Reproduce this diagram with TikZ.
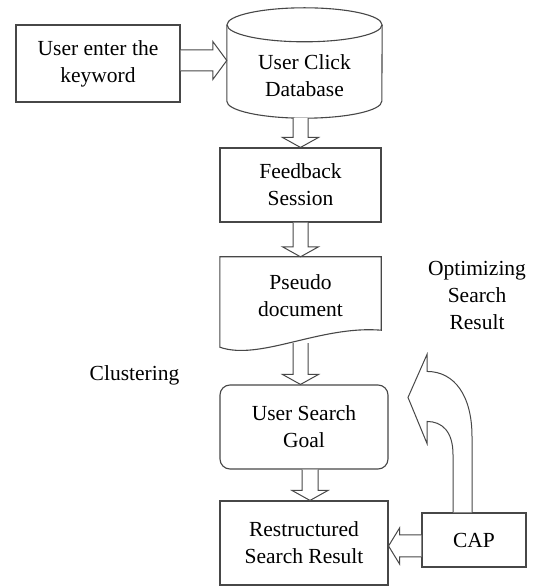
\documentclass[tikz,border=0pt]{standalone}
\usepackage{fontspec}
\setmainfont{LiberationSerif}[Extension=.ttf, UprightFont=*-Regular, BoldFont=*-Bold]
\usetikzlibrary{calc}
\newcommand\hollowdown[3]{%
  \draw[harrow] let \p1=#1, \p2=#2 in
    (\x2-#3,\y1) -- (\x2-#3,\y2+10pt) -- (\x2-18pt,\y2+10pt) -- (\x2,\y2)
    -- (\x2+18pt,\y2+10pt) -- (\x2+#3,\y2+10pt) -- (\x2+#3,\y1);}
\begin{document}
\begin{tikzpicture}[x=1pt,y=1pt,
  outline/.style={draw=black!72, line width=1.1pt},
  box/.style={outline, align=center, inner sep=0pt,
    font=\fontsize{21.5}{27}\selectfont, text=black},
  plain/.style={align=center, inner sep=0pt,
    font=\fontsize{21.5}{27}\selectfont, text=black},
  harrow/.style={draw=black!72, line width=1pt, fill=white, line join=miter}]
\fill[white] (0,0) rectangle (534,587);
\useasboundingbox (0,0) rectangle (534,587);

% nodes
\node[box, minimum width=164pt, minimum height=77pt] (user) at (98,523.5) {User enter the\\keyword};
\node[inner sep=0pt, minimum width=155pt, minimum height=110pt] (cyl) at (304.5,524) {};
\draw[outline] ($(cyl.north)+(0,-17)$) ellipse [x radius=77.5, y radius=17];
\draw[outline] ($(cyl.north west)+(0,-17)$) -- ($(cyl.south west)+(0,17)$)
  arc[start angle=180, end angle=360, x radius=77.5, y radius=17]
  -- ($(cyl.north east)+(0,-17)$);
\node[plain] (cyltext) at (304.5,511.5) {User Click\\Database};

\node[box, minimum width=161pt, minimum height=74pt] (fb) at (300.5,402) {Feedback\\Session};

\node[plain, minimum width=161pt, minimum height=78pt] (pd) at (300.5,291) {Pseudo\\document};
\draw[outline] ($(pd.south west)+(0,-12)$) -- (pd.north west) -- (pd.north east)
  -- ($(pd.south east)+(0,5)$)
  .. controls ($(pd.south east)+(-61,10)$) and ($(pd.south west)+(40,-26)$) ..
  ($(pd.south west)+(0,-12)$) -- cycle;

\node[box, rounded corners=10pt, minimum width=168pt, minimum height=84pt] (goal) at (304,160) {User Search\\Goal};
\node[box, minimum width=168pt, minimum height=84pt] (rest) at (304,44) {Restructured\\Search Result};
\node[box, minimum width=104pt, minimum height=54pt] (cap) at (474,47) {CAP};

\node[plain] (clus) at (134.5,212) {Clustering};
\node[plain] (opt) at (477,292) {Optimizing\\Search\\Result};

% connectors
\draw[harrow] let \p1=($(user.east)+(0,3)$), \p2=(cyl.west) in
  (\x1,\y1+10.5pt) -- (\x2-14pt,\y1+10.5pt) -- (\x2-14pt,\y1+19pt) -- (\x2,\y1)
  -- (\x2-14pt,\y1-19pt) -- (\x2-14pt,\y1-10.5pt) -- (\x1,\y1-10.5pt);

\hollowdown{(cyl.south)}{(fb.north)}{7.5pt}
\hollowdown{(fb.south)}{(pd.north)}{7.5pt}
\hollowdown{($(pd.south)+(0,-8)$)}{($(goal.north)+(-3.5,0)$)}{7.5pt}
\hollowdown{($(goal.south)+(6,0)$)}{($(rest.north)+(6,0)$)}{8pt}

\draw[harrow] let \p1=($(cap.west)+(0,-6)$), \p2=(rest.east) in
  (\x1,\y1+11pt) -- (\x2+11pt,\y1+11pt) -- (\x2+11pt,\y1+18pt) -- (\x2,\y1)
  -- (\x2+11pt,\y1-18pt) -- (\x2+11pt,\y1-11pt) -- (\x1,\y1-11pt);

\draw[harrow, shift={(cap.north)}] (-2,0) -- (-2,76)
  .. controls (-2,116) and (-19,141) .. (-47,141)
  -- (-47,158) -- (-66,115) -- (-47,69) -- (-47,91)
  .. controls (-32,91) and (-21,81) .. (-21,58) -- (-21,0);
\end{tikzpicture}
\end{document}
